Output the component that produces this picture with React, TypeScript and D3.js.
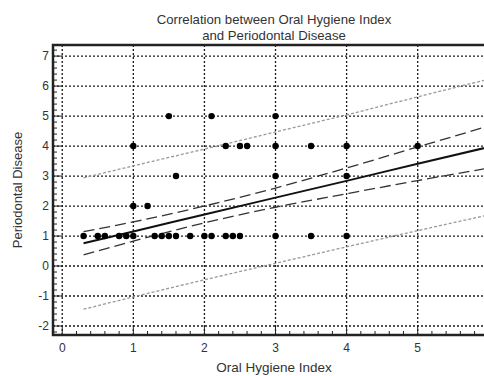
import React, { useEffect, useRef } from "react";
import * as d3 from "d3";

// scatter points (Oral Hygiene Index, Periodontal Disease)
const pointX = [0.3, 0.5, 0.6, 0.8, 0.9, 1.0, 1.3, 1.4, 1.5, 1.6, 1.8, 2.0, 2.1, 2.3, 2.4, 2.5, 3.0, 3.5, 4.0,
  1.0, 1.2,
  1.6, 3.0, 4.0,
  1.0, 2.3, 2.5, 2.6, 3.0, 3.5, 4.0, 5.0,
  1.5, 2.1, 3.0];
const pointY = [1, 1, 1, 1, 1, 1, 1, 1, 1, 1, 1, 1, 1, 1, 1, 1, 1, 1, 1,
  2, 2,
  3, 3, 3,
  4, 4, 4, 4, 4, 4, 4, 4,
  5, 5, 5];

// regression line and bands, read at these x positions
const bandX = [0.3, 1, 2, 3, 4, 5, 6.2];
const fitY = [0.76, 1.15, 1.72, 2.28, 2.84, 3.41, 4.08];
const confUpper = [1.15, 1.47, 2.0, 2.6, 3.27, 3.97, 4.81];
const confLower = [0.37, 0.83, 1.44, 1.96, 2.41, 2.85, 3.35];
const predUpper = [2.94, 3.34, 3.9, 4.47, 5.04, 5.64, 6.35];
const predLower = [-1.44, -1.03, -0.46, 0.09, 0.64, 1.18, 1.81];

const xTicks = [0, 1, 2, 3, 4, 5, 6];
const yTicks = [-2, -1, 0, 1, 2, 3, 4, 5, 6, 7];

const title = ["Correlation between Oral Hygiene Index", "and Periodontal Disease"];
const xLabel = "Oral Hygiene Index";
const yLabel = "Periodontal Disease";

const App = () => {
  const ref = useRef<SVGSVGElement>(null);

  useEffect(() => {
    const svg = d3.select(ref.current);
    svg.selectAll("*").remove();

    const left = 53, right = 503, top = 45, bottom = 335;
    const font = "'Liberation Sans', Arial, sans-serif";

    const x = d3.scaleLinear().domain([-0.13, 6.2]).range([left, right]);
    const y = d3.scaleLinear().domain([-2.3, 7.37]).range([bottom, top]);

    svg.append("defs").append("clipPath").attr("id", "plot")
      .append("rect").attr("x", left).attr("y", top)
      .attr("width", right - left).attr("height", bottom - top);

    // title
    svg.append("g").selectAll("text").data(title).join("text")
      .attr("x", 274).attr("y", (d, i) => 24 + i * 16)
      .attr("text-anchor", "middle").attr("font-family", font)
      .attr("font-size", 13.2).attr("fill", "#333").text(d => d);

    // grid
    const grid = svg.append("g").attr("stroke", "#1a1a1a").attr("stroke-width", 1.3)
      .attr("stroke-dasharray", "2,2").attr("clip-path", "url(#plot)");
    grid.selectAll(".gx").data(xTicks).join("line")
      .attr("x1", d => x(d)).attr("x2", d => x(d)).attr("y1", top).attr("y2", bottom);
    grid.selectAll(".gy").data(yTicks).join("line").attr("class", "gy")
      .attr("y1", d => y(d)).attr("y2", d => y(d)).attr("x1", left).attr("x2", right);

    // ticks
    const minorX = d3.range(0, 31).map(i => i * 0.2).filter(v => Math.abs(v - Math.round(v)) > 0.01);
    const minorY = d3.range(-11, 37).map(i => i * 0.2).filter(v => Math.abs(v - Math.round(v)) > 0.01);
    const ticks = svg.append("g").attr("stroke", "#222").attr("stroke-width", 1);
    ticks.selectAll(".mx").data(xTicks).join("line").attr("class", "mx")
      .attr("x1", d => x(d)).attr("x2", d => x(d)).attr("y1", bottom).attr("y2", bottom - 8);
    ticks.selectAll(".nx").data(minorX).join("line").attr("class", "nx")
      .attr("x1", d => x(d)).attr("x2", d => x(d)).attr("y1", bottom).attr("y2", bottom - 4);
    ticks.selectAll(".my").data(yTicks).join("line").attr("class", "my")
      .attr("y1", d => y(d)).attr("y2", d => y(d)).attr("x1", left).attr("x2", left + 8);
    ticks.selectAll(".ny").data(minorY).join("line").attr("class", "ny")
      .attr("y1", d => y(d)).attr("y2", d => y(d)).attr("x1", left).attr("x2", left + 4);

    // tick labels
    svg.append("g").selectAll("text").data(xTicks).join("text")
      .attr("x", d => x(d)).attr("y", 352).attr("text-anchor", "middle")
      .attr("font-family", font).attr("font-size", 12).attr("fill", "#333").text(d => d);
    svg.append("g").selectAll("text").data(yTicks).join("text")
      .attr("x", 49).attr("y", d => y(d) + 4).attr("text-anchor", "end")
      .attr("font-family", font).attr("font-size", 12).attr("fill", "#333").text(d => d);

    // axis titles
    svg.append("text").attr("x", 274).attr("y", 372).attr("text-anchor", "middle")
      .attr("font-family", font).attr("font-size", 13.5).attr("fill", "#333").text(xLabel);
    svg.append("text").attr("transform", `translate(22,190) rotate(-90)`)
      .attr("text-anchor", "middle").attr("font-family", font).attr("font-size", 13)
      .attr("fill", "#333").text(yLabel);

    // lines
    const idx = d3.range(bandX.length);
    const lineOf = (vals: number[]) => d3.line<number>()
      .x(i => x(bandX[i])).y(i => y(vals[i])).curve(d3.curveMonotoneX)(idx);
    const lines = svg.append("g").attr("clip-path", "url(#plot)").attr("fill", "none");
    [predUpper, predLower].forEach(v => lines.append("path").attr("d", lineOf(v))
      .attr("stroke", "#999").attr("stroke-width", 1.3).attr("stroke-dasharray", "3,2"));
    [confUpper, confLower].forEach(v => lines.append("path").attr("d", lineOf(v))
      .attr("stroke", "#333").attr("stroke-width", 1.3).attr("stroke-dasharray", "11,5"));
    lines.append("path").attr("d", lineOf(fitY)).attr("stroke", "#111").attr("stroke-width", 2);

    // points
    svg.append("g").attr("fill", "#000").selectAll("circle").data(pointX).join("circle")
      .attr("cx", d => x(d)).attr("cy", (d, i) => y(pointY[i])).attr("r", 3.2);

    // frame
    svg.append("rect").attr("x", left).attr("y", top).attr("width", right - left)
      .attr("height", bottom - top).attr("fill", "none").attr("stroke", "#222").attr("stroke-width", 2.5);
  }, []);

  return <svg ref={ref} width={484} height={376}
    style={{ position: "absolute", left: 0, top: 0, background: "#fff" }} />;
};

export default App;
